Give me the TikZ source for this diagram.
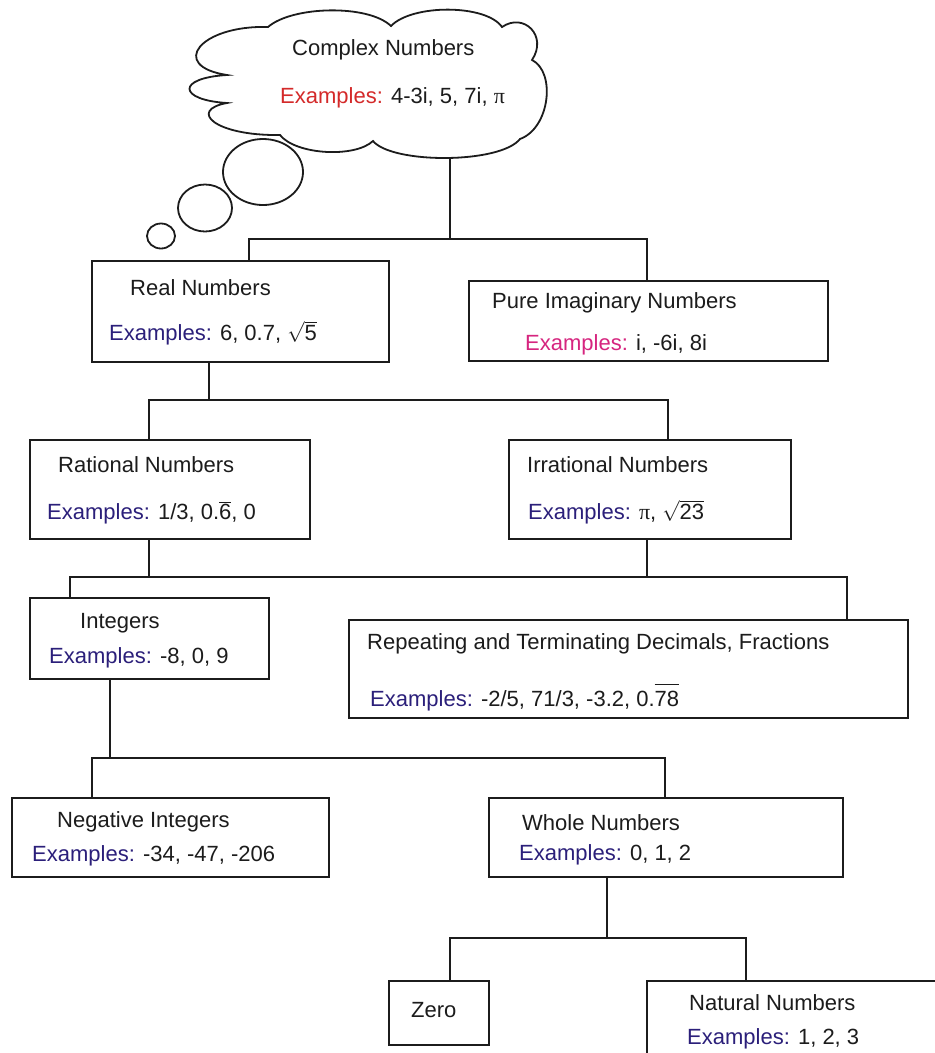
\documentclass[tikz,border=0pt]{standalone}
\usepackage{fontspec}
\setmainfont{Liberation Sans}
\newfontfamily\pifont{Liberation Serif}
\definecolor{exblue}{HTML}{2B1F7A}
\definecolor{exred}{HTML}{D42A2A}
\definecolor{exmag}{HTML}{D6257F}
\definecolor{ink}{HTML}{1C1C1C}
\tikzset{
  conn/.style={draw=ink, line width=1.8pt},
  box/.style={draw=ink, line width=1.8pt, fill=white, inner sep=0pt, anchor=north west},
  lbl/.style={inner sep=0pt, anchor=west, text=ink, font=\fontsize{22}{26}\selectfont},
  bubble/.style={draw=ink, line width=1.8pt, fill=white}
}
\newcommand{\ex}[1]{\textcolor{#1}{Examples:}}
\newcommand{\mypi}{{\pifont π}}
\begin{document}
\begin{tikzpicture}[x=1pt,y=-1pt]
\useasboundingbox (0,0) rectangle (935,1053);
\fill[white] (0,0) rectangle (935,1053);
\clip (0,0) rectangle (935,1053);

% x-reference coordinates
\coordinate (x249) at (249,0);
\coordinate (x149) at (149,0);
\coordinate (x668) at (668,0);
\coordinate (x647) at (647,0);
\coordinate (x70) at (70,0);
\coordinate (x847) at (847,0);
\coordinate (x92) at (92,0);
\coordinate (x665) at (665,0);
\coordinate (x450) at (450,0);
\coordinate (x746) at (746,0);

% thought bubbles
\draw[bubble] (161,236) ellipse [x radius=14, y radius=12.5];
\draw[bubble] (205,208) ellipse [x radius=27, y radius=23.5];
\draw[bubble] (263,172) ellipse [x radius=40, y radius=33];

% cloud
\draw[bubble] (268,27)
  .. controls (292,6) and (368,4) .. (391,26)
  .. controls (412,4) and (486,4) .. (502,27)
  .. controls (524,12) and (548,36) .. (532,60)
  .. controls (556,72) and (550,128) .. (520,139)
  .. controls (500,164) and (392,164) .. (373,141)
  .. controls (355,158) and (296,155) .. (280,135)
  .. controls (214,136) and (188,110) .. (227,103)
  .. controls (178,100) and (176,78) .. (227,75)
  .. controls (168,66) and (200,25) .. (268,27) -- cycle;
\coordinate (cloudB) at (450,157);
\node[lbl] (cT) at (292,50) {Complex Numbers};
\node[lbl] (cE) at (280,98) {\ex{exred} 4-3i, 5, 7i, \mypi};

% boxes
\node[box, minimum width=297pt, minimum height=101pt] (real) at (91,260) {};
\node[lbl] (realT) at (130,288) {Real Numbers};
\node[lbl] (realE) at (109,333) {\ex{exblue} 6, 0.7, \(\sqrt{\mbox{5}}\)};

\node[box, minimum width=359pt, minimum height=80pt] (pure) at (468,280) {};
\node[lbl] (pureT) at (492,303) {Pure Imaginary Numbers};
\node[lbl] (pureE) at (525,345) {\ex{exmag} i, -6i, 8i};

\node[box, minimum width=280pt, minimum height=99pt] (rational) at (29,439) {};
\node[lbl] (ratT) at (58,465) {Rational Numbers};
\node[lbl] (ratE) at (47,513) {\ex{exblue} 1/3, 0.\(\overline{\mbox{6}}\), 0};

\node[box, minimum width=282pt, minimum height=99pt] (irr) at (508,439) {};
\node[lbl] (irrT) at (527,465) {Irrational Numbers};
\node[lbl] (irrE) at (528,512) {\ex{exblue} \mypi, \(\sqrt{\mbox{23}}\)};

\node[box, minimum width=239pt, minimum height=81pt] (integers) at (29,597) {};
\node[lbl] (intT) at (80,623) {Integers};
\node[lbl] (intE) at (49,658) {\ex{exblue} -8, 0, 9};

\node[box, minimum width=559pt, minimum height=98pt] (repeat) at (348,619) {};
\node[lbl] (repT) at (367,644) {Repeating and Terminating Decimals, Fractions};
\node[lbl] (repE) at (370,697) {\ex{exblue} -2/5, 71/3, -3.2, 0.\(\overline{\mbox{78}\rule{0pt}{21pt}}\)};

\node[box, minimum width=317pt, minimum height=79pt] (negative) at (11,797) {};
\node[lbl] (negT) at (57,822) {Negative Integers};
\node[lbl] (negE) at (32,856) {\ex{exblue} -34, -47, -206};

\node[box, minimum width=354pt, minimum height=79pt] (whole) at (488,797) {};
\node[lbl] (wholeT) at (522,823) {Whole Numbers};
\node[lbl] (wholeE) at (519,855) {\ex{exblue} 0, 1, 2};

\node[box, minimum width=100pt, minimum height=64pt] (zero) at (388,980) {};
\node[lbl] (zeroT) at (411,1010) {Zero};

\node[box, minimum width=400pt, minimum height=150pt] (natural) at (646,980) {};
\node[lbl] (natT) at (689,1003) {Natural Numbers};
\node[lbl] (natE) at (687,1039) {\ex{exblue} 1, 2, 3};

% connectors
\coordinate (b1) at (450,239);
\draw[conn] (cloudB) -- (b1);
\draw[conn] (real.north -| x249) |- (b1) -| (pure.north -| x647);

\coordinate (b2) at (209,400);
\draw[conn] (real.south -| b2) -- (b2);
\draw[conn] (rational.north -| x149) |- (b2) -| (irr.north -| x668);

\coordinate (b3) at (149,577);
\draw[conn] (rational.south -| b3) -- (b3);
\draw[conn] (irr.south -| x647) -- (x647 |- b3);
\draw[conn] (integers.north -| x70) |- (b3) -| (repeat.north -| x847);

\coordinate (b4) at (110,758);
\draw[conn] (integers.south -| b4) -- (b4);
\draw[conn] (negative.north -| x92) |- (b4) -| (whole.north -| x665);

\coordinate (b5) at (607,938);
\draw[conn] (whole.south -| b5) -- (b5);
\draw[conn] (zero.north -| x450) |- (b5) -| (natural.north -| x746);
\end{tikzpicture}
\end{document}
